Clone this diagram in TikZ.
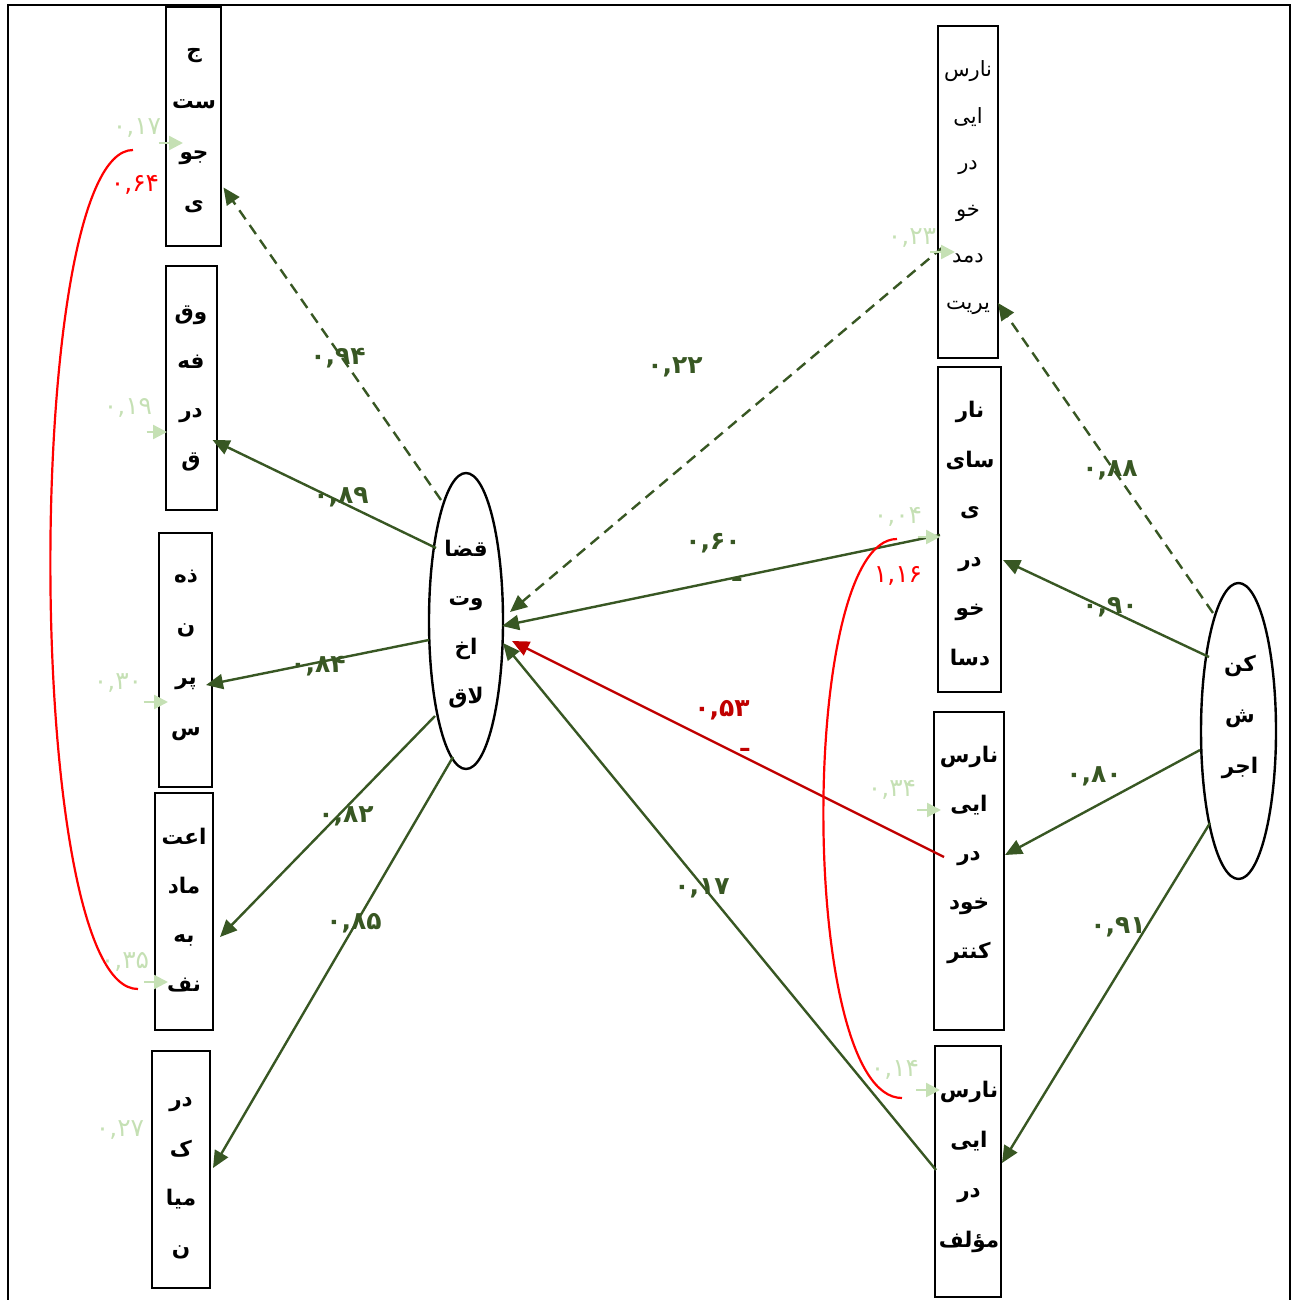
\documentclass[tikz,border=0pt]{standalone}
\usepackage{fontspec}
\usetikzlibrary{arrows.meta,shapes.geometric}
\TeXXeTstate=1
\newfontfamily\arabicfont[Script=Arabic]{DejaVu Sans}
\newfontfamily\numfont{DejaVu Sans}
\definecolor{dgreen}{RGB}{56,87,35}
\definecolor{lgreen}{RGB}{197,224,180}
\definecolor{dred}{RGB}{192,0,0}
\newcommand\wordstack[6]{\foreach \w [count=\i] in {#6}{\node[#5] (#1-\i) at (#2,{#3+(\i-1)*#4}) {\beginR\w\endR};}}
\tikzset{
 box/.style={draw, line width=2.6pt, rectangle, inner sep=0pt},
 oval/.style={draw, line width=2.4pt, ellipse, inner sep=0pt},
 wtxt/.style={font=\arabicfont\bfseries\fontsize{21.5}{26}\selectfont, inner sep=0pt, text height=14pt, text depth=5pt},
 wtxtl/.style={font=\arabicfont\fontsize{21}{26}\selectfont, inner sep=0pt, text height=14pt, text depth=5pt},
 conn/.style={draw=dgreen, line width=2.4pt, -{Triangle[length=17pt,width=15pt]}},
 dconn/.style={conn, dash pattern=on 11pt off 7pt},
 rconn/.style={draw=dred, line width=2.4pt, -{Triangle[length=17pt,width=15pt]}},
 err/.style={draw=lgreen, line width=2.4pt, -{Triangle[length=14pt,width=14pt]}},
 cov/.style={draw=red, line width=2.2pt},
 coef/.style={font=\numfont\bfseries\fontsize{25}{28}\selectfont, text=dgreen, inner sep=0pt},
 ecoef/.style={font=\numfont\fontsize{25}{28}\selectfont, text=lgreen, inner sep=0pt},
 rcoef/.style={font=\numfont\fontsize{25}{28}\selectfont, text=red, inner sep=0pt},
 drcoef/.style={font=\numfont\bfseries\fontsize{25}{28}\selectfont, text=dred, inner sep=0pt},
}
\begin{document}
\begin{tikzpicture}[x=1pt,y=-1pt]
\useasboundingbox (0,0) rectangle (1292,1300);
\draw[line width=2pt] (8,1300) -- (8,5) -- (1290,5) -- (1290,1300);

% left indicator boxes
\node[box, minimum width=55pt, minimum height=239pt] (b1) at (193.5,126.5) {};
\node[box, minimum width=51pt, minimum height=244pt] (b2) at (191.5,388) {};
\node[box, minimum width=53pt, minimum height=254pt] (b3) at (185.5,660) {};
\node[box, minimum width=58pt, minimum height=237pt] (b4) at (184,911.5) {};
\node[box, minimum width=58pt, minimum height=237pt] (b5) at (181,1169.5) {};
% right indicator boxes
\node[box, minimum width=60pt, minimum height=332pt] (r1) at (968,192) {};
\node[box, minimum width=63pt, minimum height=325pt] (r2) at (969.5,529.5) {};
\node[box, minimum width=70pt, minimum height=318pt] (r3) at (969,871) {};
\node[box, minimum width=66pt, minimum height=251pt] (r4) at (968,1171.5) {};
% latent variables
\node[oval, minimum width=74pt, minimum height=296pt] (e1) at (466,621) {};
\node[oval, minimum width=75pt, minimum height=296pt] (e2) at (1238.5,731) {};

% texts
\wordstack{t1}{194}{53}{51}{wtxt}{ج,ست,جو,ی}
\wordstack{t2}{191}{315}{49}{wtxt}{وق,فه,در,ق}
\wordstack{t3}{186}{578}{51}{wtxt}{ذه,ن,پر,س}
\wordstack{t4}{184}{840}{49}{wtxt}{اعت,ماد,به,نف}
\wordstack{t5}{181}{1102}{49.5}{wtxt}{در,ک,میا,ن}
\wordstack{u1}{968}{72}{46.6}{wtxtl}{نارس,ایی,در,خو,دمد,یریت}
\wordstack{u2}{970}{413}{49.5}{wtxt}{نار,سای,ی,در,خو,دسا}
\wordstack{u3}{969}{758}{49}{wtxt}{نارس,ایی,در,خود,کنتر}
\wordstack{u4}{969}{1093}{50}{wtxt}{نارس,ایی,در,مؤلف}
\wordstack{v1}{466}{552}{49}{wtxt}{قضا,وت,اخ,لاق}
\wordstack{v2}{1240}{667}{51}{wtxt}{کن,ش,اجر}

% loadings of e1
\draw[dconn] ([shift={(-25,-121)}]e1.center) -- ([shift={(30,61)}]b1.center);
\draw[conn] ([shift={(-30,-73)}]e1.center) -- ([shift={(21,52)}]b2.center);
\draw[conn] ([shift={(-37,19)}]e1.center) -- ([shift={(20.5,25)}]b3.center);
\draw[conn] ([shift={(-31,95)}]e1.center) -- ([shift={(36,25.5)}]b4.center);
\draw[conn] ([shift={(-13,136)}]e1.center) -- ([shift={(32,-1.5)}]b5.center);
% loadings of e2
\draw[dconn] ([shift={(-25.5,-118)}]e2.center) -- ([shift={(30,111)}]r1.center);
\draw[conn] ([shift={(-29.5,-74)}]e2.center) -- ([shift={(33.5,30.5)}]r2.center);
\draw[conn] ([shift={(-38.5,19)}]e2.center) -- ([shift={(36,-16)}]r3.center);
\draw[conn] ([shift={(-28.5,92)}]e2.center) -- ([shift={(34,-8.5)}]r4.center);
% paths to e1
\draw[dconn] ([shift={(-25,55)}]r1.center) -- ([shift={(44,-9)}]e1.center);
\draw[conn] ([shift={(-29.5,5.5)}]r2.center) -- ([shift={(36,5)}]e1.center);
\draw[rconn] ([shift={(-25,-14)}]r3.center) -- ([shift={(46,20)}]e1.center);
\draw[conn] ([shift={(-32,-1.5)}]r4.center) -- ([shift={(37,22)}]e1.center);

% error arrows
\draw[err] ([shift={(-35,16.5)}]b1.center) -- ([shift={(-10.5,16.5)}]b1.center);
\draw[err] ([shift={(-45,44)}]b2.center) -- ([shift={(-24.5,44)}]b2.center);
\draw[err] ([shift={(-42,42)}]b3.center) -- ([shift={(-17.5,42)}]b3.center);
\draw[err] ([shift={(-40,70.5)}]b4.center) -- ([shift={(-16,70.5)}]b4.center);
\draw[err] ([shift={(-38,60)}]r1.center) -- ([shift={(-13,60)}]r1.center);
\draw[err] ([shift={(-52,7.5)}]r2.center) -- ([shift={(-29.5,7.5)}]r2.center);
\draw[err] ([shift={(-52,-61)}]r3.center) -- ([shift={(-28,-61)}]r3.center);
\draw[err] ([shift={(-52,-81.5)}]r4.center) -- ([shift={(-28,-81.5)}]r4.center);

% covariances
\draw[cov] ([shift={(-60.5,23.5)}]b1.center) .. controls (22,150) and (22,990) .. ([shift={(-46,77.5)}]b4.center);
\draw[cov] ([shift={(-72.5,9.5)}]r2.center) .. controls (798,539) and (798,1098) .. ([shift={(-66,-73.5)}]r4.center);

% coefficients
\node[coef] (c1) at (338,358) {۰,۹۴};
\node[coef] (c2) at (341,497) {۰,۸۹};
\node[coef] (c3) at (318,666) {۰,۸۴};
\node[coef] (c4) at (346,816) {۰,۸۲};
\node[coef] (c5) at (354,923) {۰,۸۵};
\node[coef] (c6) at (675,367) {۰,۲۲};
\node[coef] (c7) at (713,543) {۰,۶۰};
\node[coef] (c7b) at (737,580) {ـ};
\node[coef] (c8) at (702,888) {۰,۱۷};
\node[coef] (c9) at (1110,470) {۰,۸۸};
\node[coef] (c10) at (1110,607) {۰,۹۰};
\node[coef] (c11) at (1094,776) {۰,۸۰};
\node[coef] (c12) at (1118,927) {۰,۹۱};
\node[drcoef] (c13) at (722,710) {۰,۵۳};
\node[drcoef] (c13b) at (745,750) {ـ};
% error values
\node[ecoef] (d1) at (137,128) {۰,۱۷};
\node[ecoef] (d2) at (128,408) {۰,۱۹};
\node[ecoef] (d3) at (118,683) {۰,۳۰};
\node[ecoef] (d4) at (125,962) {۰,۳۵};
\node[ecoef] (d5) at (120,1130) {۰,۲۷};
\node[ecoef] (d6) at (912,238) {۰,۲۳};
\node[ecoef] (d7) at (898,517) {۰,۰۴};
\node[ecoef] (d8) at (892,790) {۰,۳۴};
\node[ecoef] (d9) at (895,1070) {۰,۱۴};
% covariance values
\node[rcoef] (k1) at (135,185) {۰,۶۴};
\node[rcoef] (k2) at (898,576) {۱,۱۶};
\end{tikzpicture}
\end{document}
